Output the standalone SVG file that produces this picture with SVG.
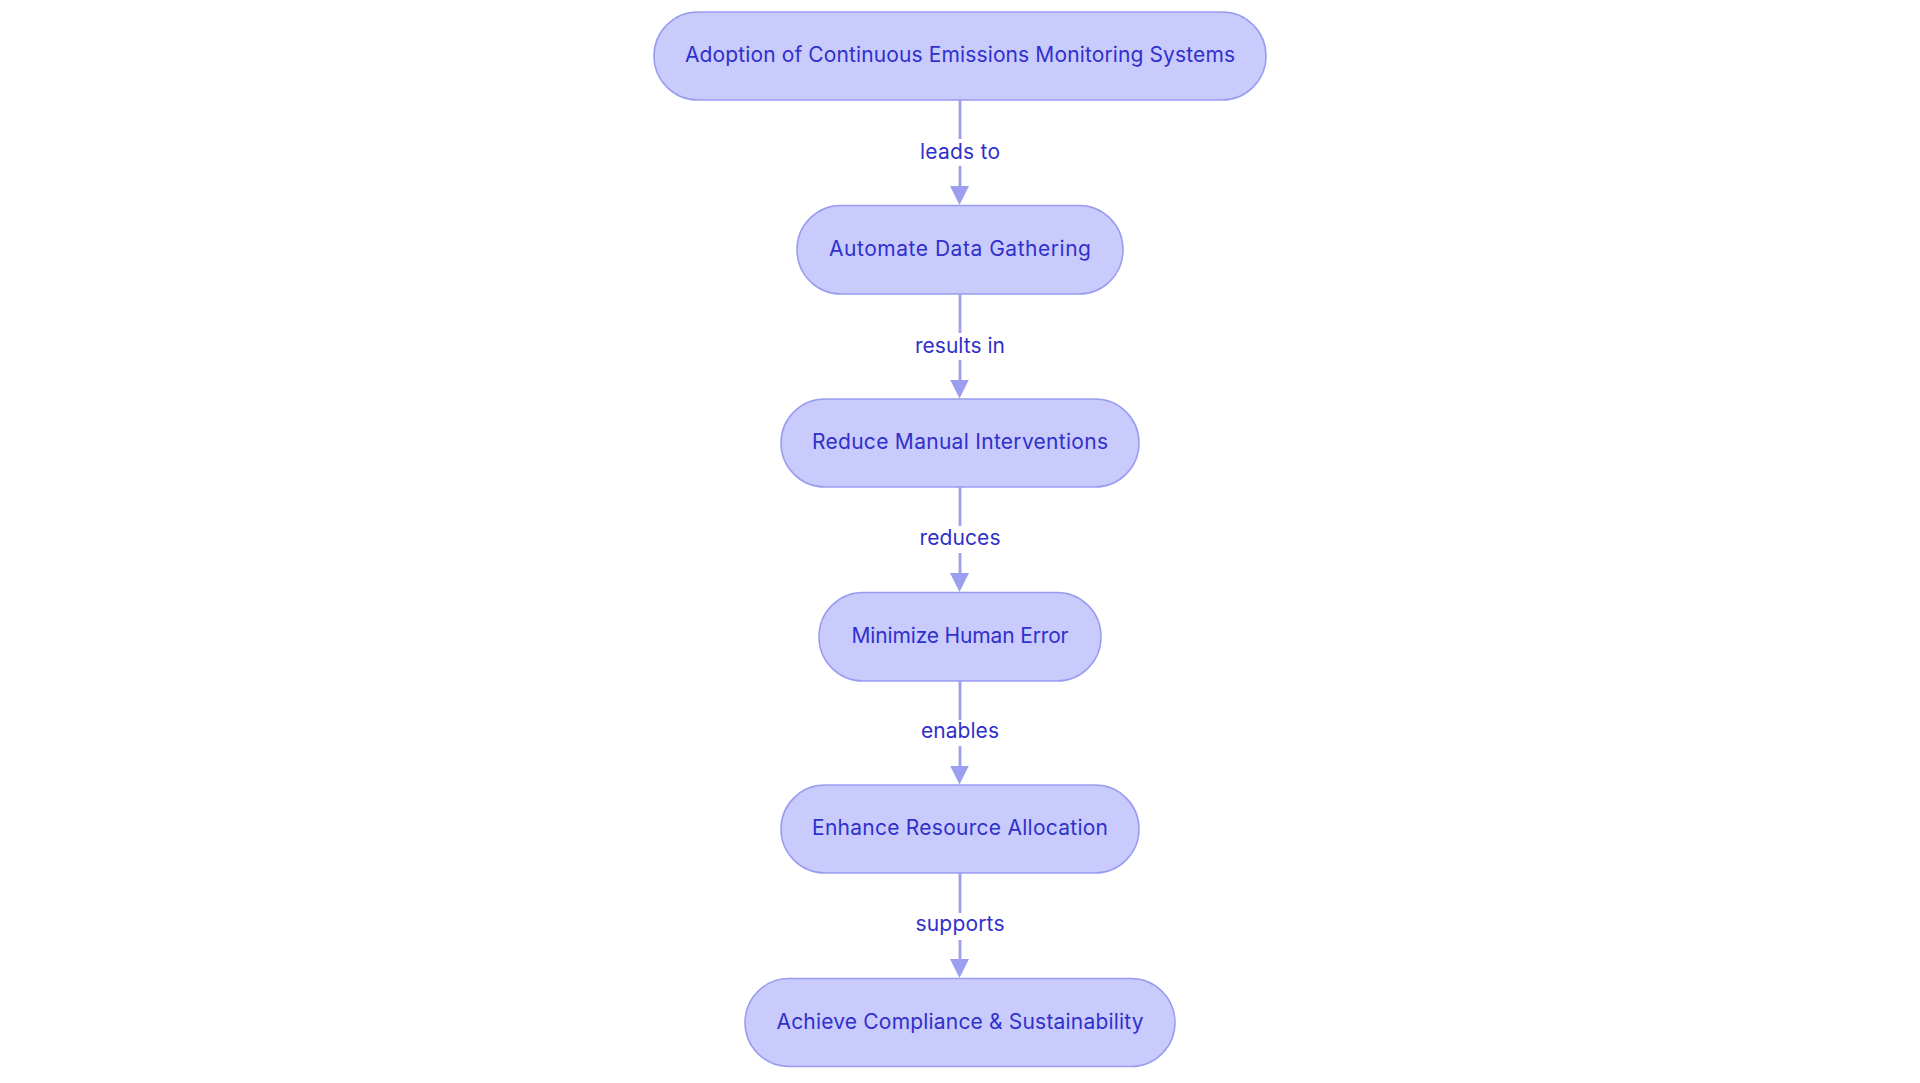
<svg xmlns="http://www.w3.org/2000/svg" width="1920" height="1083" viewBox="0 0 1920 1083">
<style>
.node rect{fill:#c9cbfc;stroke:#9a9cf0;stroke-width:1.5}
.t{font-family:Inter,"Noto Sans","Liberation Sans",sans-serif;font-size:21px;fill:#3030cc;text-anchor:middle}
.edge{stroke:#9c9eef;stroke-width:2.8;fill:none;marker-end:url(#arr)}
.lbg{fill:#ffffff}
</style>
<defs>
<marker id="arr" markerUnits="userSpaceOnUse" markerWidth="19" markerHeight="19" viewBox="0 0 19 19" refX="9.5" refY="9" orient="auto">
<path d="M0,0 L19,9.5 L0,19 Z" fill="#9c9eef"/>
</marker>
</defs>
<rect width="1920" height="1083" fill="#ffffff"/>
<g id="connectors">
<line class="edge" x1="960" y1="100" x2="960" y2="195.5"/>
<line class="edge" x1="960" y1="294" x2="960" y2="389"/>
<line class="edge" x1="960" y1="487" x2="960" y2="582.5"/>
<line class="edge" x1="960" y1="681" x2="960" y2="775"/>
<line class="edge" x1="960" y1="873" x2="960" y2="968.5"/>
<g id="label-1"><rect class="lbg" x="918" y="139" width="84" height="27"/><text class="t" x="960" y="159" textLength="80">leads to</text></g>
<g id="label-2"><rect class="lbg" x="913" y="333" width="94" height="27"/><text class="t" x="960" y="352.5" textLength="90">results in</text></g>
<g id="label-3"><rect class="lbg" x="918" y="526" width="84" height="27"/><text class="t" x="960" y="545" textLength="81">reduces</text></g>
<g id="label-4"><rect class="lbg" x="919" y="720" width="82" height="26"/><text class="t" x="960" y="738" textLength="78">enables</text></g>
<g id="label-5"><rect class="lbg" x="914" y="913" width="92" height="27"/><text class="t" x="960" y="931" textLength="89">supports</text></g>
</g>
<g id="node-1" class="node"><rect x="654" y="12" width="612" height="88" rx="44" ry="44"/><text class="t" x="960" y="62" textLength="550">Adoption of Continuous Emissions Monitoring Systems</text></g>
<g id="node-2" class="node"><rect x="797" y="205.5" width="326" height="88.5" rx="44" ry="44"/><text class="t" x="960" y="256" textLength="262">Automate Data Gathering</text></g>
<g id="node-3" class="node"><rect x="781" y="399" width="358" height="88" rx="44" ry="44"/><text class="t" x="960" y="449" textLength="296">Reduce Manual Interventions</text></g>
<g id="node-4" class="node"><rect x="819" y="592.5" width="282" height="88.5" rx="44" ry="44"/><text class="t" x="960" y="643" textLength="217">Minimize Human Error</text></g>
<g id="node-5" class="node"><rect x="781" y="785" width="358" height="88" rx="44" ry="44"/><text class="t" x="960" y="835" textLength="296">Enhance Resource Allocation</text></g>
<g id="node-6" class="node"><rect x="745" y="978.5" width="430" height="88" rx="44" ry="44"/><text class="t" x="960" y="1028.5" textLength="367">Achieve Compliance &amp; Sustainability</text></g>
</svg>
